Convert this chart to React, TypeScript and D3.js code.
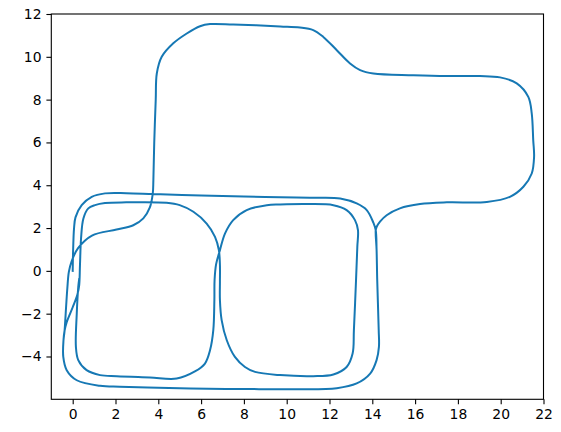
import React, { useEffect, useRef } from 'react';
import * as d3 from 'd3';

type Pt = [number, number];

// trajectory legs (x, y)
// start at the origin, north then along the outer top edge to the right-hand junction
const startLap: Pt[] = [
  [0.0, 0.0], [0.01, 0.6], [0.03, 1.3], [0.06, 1.95], [0.13, 2.5], [0.42, 3.07],
  [0.89, 3.46], [1.51, 3.62], [2.5, 3.63], [3.76, 3.59], [6.0, 3.52], [8.0, 3.47],
  [9.7, 3.44], [11.5, 3.42], [12.5, 3.38], [13.27, 3.15], [13.74, 2.84],
  [14.05, 2.25], [14.16, 1.9],
];

// right side down, bottom edge west, left side up to the split point
const outerReturn: Pt[] = [
  [14.16, 1.9], [14.2, 1.0], [14.23, -0.43], [14.3, -2.77], [14.31, -3.55],
  [14.2, -4.17], [13.9, -4.8], [13.27, -5.26], [12.34, -5.48], [10.5, -5.53],
  [8.0, -5.52], [5.5, -5.5], [3.5, -5.45], [2.2, -5.41], [1.28, -5.37], [0.19, -5.11],
  [-0.28, -4.64], [-0.44, -4.02], [-0.43, -3.24], [-0.38, -2.8],
];

// up through the origin, the tall loop to the north and east, back to the junction
const bigLoop: Pt[] = [
  [-0.38, -2.8], [-0.31, -1.7], [-0.25, -0.8], [-0.18, -0.05], [-0.05, 0.45],
  [0.25, 1.06], [0.9, 1.65], [2.05, 1.93], [2.83, 2.13], [3.3, 2.45], [3.6, 2.95],
  [3.74, 3.6], [3.77, 4.24], [3.81, 5.97], [3.88, 8.0], [3.93, 9.22], [4.16, 10.0],
  [4.7, 10.63], [5.33, 11.09], [5.95, 11.43], [6.42, 11.53], [7.5, 11.51],
  [9.7, 11.42], [10.62, 11.37], [11.24, 11.25], [11.71, 10.93], [12.34, 10.31],
  [12.96, 9.69], [13.43, 9.38], [14.05, 9.22], [15.92, 9.14], [17.48, 9.1],
  [19.03, 9.1], [19.97, 9.04], [20.75, 8.76], [21.29, 8.13], [21.45, 7.36],
  [21.52, 6.11], [21.56, 5.33], [21.45, 4.55], [21.06, 3.93], [20.43, 3.46],
  [19.35, 3.22], [17.48, 3.2], [16.23, 3.12], [15.29, 2.92], [14.67, 2.6],
  [14.36, 2.3], [14.2, 2.05], [14.16, 1.9],
];

// short diagonal from the outer left side onto the inner one
const crossOver: Pt[] = [
  [-0.38, -2.8], [-0.28, -2.4], [0.0, -1.7], [0.22, -1.1], [0.3, -0.7],
];

// figure eight: left square top, right square, left square bottom
const figureEight: Pt[] = [
  [0.3, -0.7], [0.34, 0.27], [0.39, 1.51], [0.5, 2.45], [0.73, 2.92], [1.04, 3.07],
  [1.51, 3.17], [2.5, 3.2], [4.39, 3.18], [5.0, 3.07], [5.64, 2.76], [6.26, 2.21],
  [6.65, 1.59], [6.83, 0.97], [6.88, 0.27], [6.88, -0.5], [6.88, -1.37],
  [6.96, -2.3], [7.2, -3.24], [7.58, -4.02], [8.05, -4.49], [8.52, -4.72],
  [9.69, -4.87], [11.24, -4.92], [12.18, -4.84], [12.8, -4.49], [13.08, -3.86],
  [13.14, -2.77], [13.24, -0.43], [13.3, 1.12], [13.33, 1.9], [13.19, 2.37],
  [12.8, 2.84], [12.18, 3.07], [10.93, 3.12], [9.69, 3.1], [9.07, 3.07],
  [8.13, 2.84], [7.5, 2.37], [7.12, 1.75], [6.88, 0.97], [6.7, 0.3],
  [6.63, -0.43], [6.62, -1.37], [6.57, -2.77], [6.42, -3.7], [6.18, -4.33],
  [5.71, -4.7], [4.86, -5.03], [3.61, -4.98], [2.06, -4.92], [1.28, -4.87],
  [0.65, -4.64], [0.26, -4.17], [0.15, -3.55], [0.19, -1.99], [0.26, -0.75],
  [0.3, -0.4],
];

const xTicks = [0, 2, 4, 6, 8, 10, 12, 14, 16, 18, 20, 22];
const yTicks = [-4, -2, 0, 2, 4, 6, 8, 10, 12];

const App = () => {
  const ref = useRef<SVGSVGElement>(null);

  useEffect(() => {
    const width = 561;
    const height = 432;
    const left = 51.3;
    const right = 543.5;
    const top = 14;
    const bottom = 399.3;

    const svg = d3.select(ref.current);
    svg.selectAll('*').remove();

    const x = d3.scaleLinear().domain([-1, 22]).range([left, right]);
    const y = d3.scaleLinear().domain([-6, 12]).range([bottom, top]);

    // join the legs in driving order, dropping repeated junction points
    const legs = [startLap, outerReturn, bigLoop, outerReturn, crossOver, figureEight];
    const route: Pt[] = [];
    legs.forEach((leg) => {
      leg.forEach((p) => {
        const last = route[route.length - 1];
        if (!last || last[0] !== p[0] || last[1] !== p[1]) route.push(p);
      });
    });

    const line = d3
      .line<Pt>()
      .x((d) => x(d[0]))
      .y((d) => y(d[1]))
      .curve(d3.curveCatmullRom.alpha(0.5));

    svg
      .append('path')
      .datum(route)
      .attr('d', line)
      .attr('fill', 'none')
      .attr('stroke', '#1678b4')
      .attr('stroke-width', 2)
      .attr('stroke-linejoin', 'round')
      .attr('stroke-linecap', 'square');

    const fmt = (d: d3.NumberValue) => String(d).replace('-', '\u2212');

    const gx = svg
      .append('g')
      .attr('transform', `translate(0,${bottom})`)
      .call(
        d3.axisBottom(x).tickValues(xTicks).tickSize(4.9).tickSizeOuter(0).tickPadding(4.9).tickFormat(fmt)
      );
    const gy = svg
      .append('g')
      .attr('transform', `translate(${left},0)`)
      .call(
        d3.axisLeft(y).tickValues(yTicks).tickSize(4.9).tickSizeOuter(0).tickPadding(4.9).tickFormat(fmt)
      );

    [gx, gy].forEach((g) => {
      g.attr('font-family', '"DejaVu Sans", sans-serif').attr('font-size', 13.9);
      g.select('.domain').remove();
      g.selectAll('line').attr('stroke', '#000').attr('stroke-width', 1.1);
      g.selectAll('text').attr('fill', '#000');
    });

    svg
      .append('rect')
      .attr('x', left)
      .attr('y', top)
      .attr('width', right - left)
      .attr('height', bottom - top)
      .attr('fill', 'none')
      .attr('stroke', '#000')
      .attr('stroke-width', 1.1);

    svg.attr('width', width).attr('height', height);
  }, []);

  return (
    <svg
      ref={ref}
      width={561}
      height={432}
      style={{ position: 'absolute', left: 0, top: 0, background: '#fff' }}
    />
  );
};

export default App;
